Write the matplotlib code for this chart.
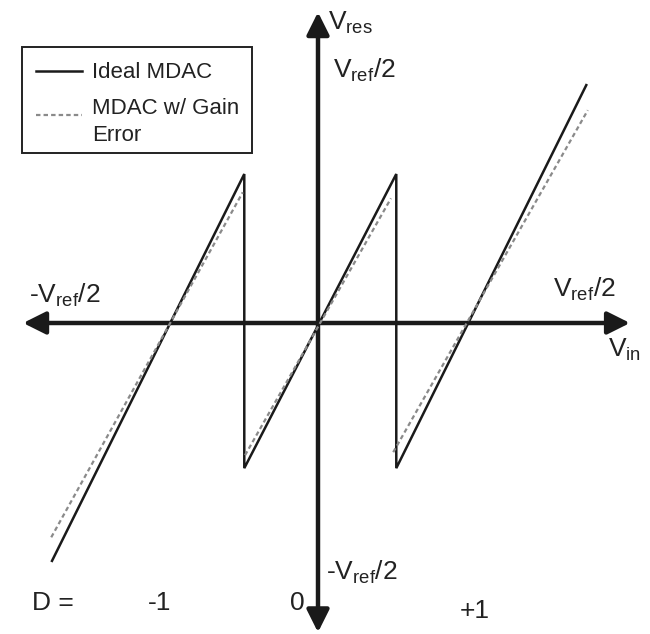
import matplotlib
matplotlib.use("Agg")
import matplotlib.pyplot as plt
from matplotlib.patches import Rectangle
from matplotlib.lines import Line2D

plt.rcParams['font.family'] = ['Liberation Sans', 'DejaVu Sans']
plt.rcParams['mathtext.fontset'] = 'custom'
plt.rcParams['mathtext.rm'] = 'Liberation Sans'
plt.rcParams['mathtext.it'] = 'Liberation Sans'

# residue transfer curve, Vin and Vres in the same units
ideal_x = [-3.50, -0.97, -0.97, 1.03, 1.03, 3.53]
ideal_y = [-3.13, 1.96, -1.91, 1.96, -1.91, 3.13]

# MDAC with gain error, one piece per decision region
gain_x = [[-3.51, -0.99], [-0.96, 0.96], [0.99, 3.55]]
gain_y = [[-2.82, 1.72], [-1.74, 1.64], [-1.70, 2.80]]

axis_x = [-3.88, 4.105]
axis_y = [-4.07, 4.09]

W, H = 650, 634
fig = plt.figure(figsize=(W / 100, H / 100), dpi=100)
ax = fig.add_axes([0, 0, 1, 1])
ax.set_xlim(-318 / 76, (W - 318) / 76)
ax.set_ylim((323 - H) / 76, 323 / 76)
ax.axis('off')

dark = '#1a1a1a'
arrow = dict(arrowstyle='<|-|>,head_length=0.4,head_width=0.2', lw=3.2,
             color=dark, mutation_scale=34, shrinkA=0, shrinkB=0)
ax.annotate('', xy=(axis_x[1], 0), xytext=(axis_x[0], 0), arrowprops=arrow)
ax.annotate('', xy=(0, axis_y[1]), xytext=(0, axis_y[0]), arrowprops=arrow)

ax.plot(ideal_x, ideal_y, color=dark, lw=1.8, solid_joinstyle='miter', zorder=3)
for gx, gy in zip(gain_x, gain_y):
    ax.plot(gx, gy, color='#8a8a8a', lw=1.6, ls=(0, (2, 1.4)), zorder=4)


def put(px, py, s, size=19, **kw):
    fig.text(px / W, 1 - py / H, s, fontsize=size, color='#222222',
             ha='left', va='baseline', **kw)


put(328, 30, r'V$_\mathregular{res}$')
put(333, 78, r'V$_\mathregular{ref}$/2')
put(553, 297, r'V$_\mathregular{ref}$/2')
put(29, 303, r'-V$_\mathregular{ref}$/2')
put(608, 357, r'V$_\mathregular{in}$')
put(326, 580, r'-V$_\mathregular{ref}$/2')
put(32, 610, 'D =')
put(148, 610, '-1')
put(290, 610, '0')
put(460, 618, '+1')

# legend box
fig.patches.append(Rectangle((22 / W, 1 - 153 / H), 230 / W, 106 / H,
                             transform=fig.transFigure, fill=False,
                             ec='#222222', lw=1.4))
fig.lines.append(Line2D([36 / W, 82 / W], [1 - 71 / H, 1 - 71 / H],
                        transform=fig.transFigure, color=dark, lw=1.8))
fig.lines.append(Line2D([36 / W, 82 / W], [1 - 115 / H, 1 - 115 / H],
                        transform=fig.transFigure, color='#8a8a8a', lw=1.6,
                        ls=(0, (2, 1.4))))
put(92, 78, 'Ideal MDAC', size=16)
put(92, 114, 'MDAC w/ Gain', size=16)
put(92, 141, 'Error', size=16)

fig.savefig('out.png', dpi=100, facecolor='white')
